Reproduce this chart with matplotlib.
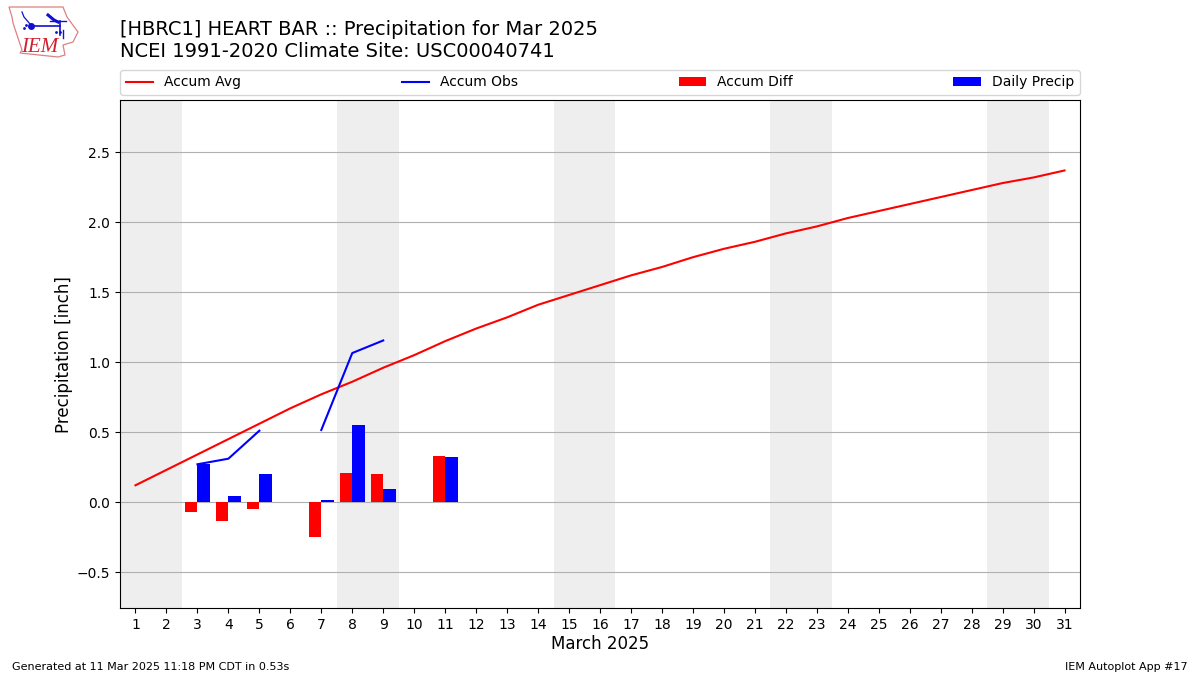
import numpy as np
import matplotlib
matplotlib.use("Agg")
import matplotlib.pyplot as plt
from matplotlib.patches import Polygon

nan = float("nan")
days = list(range(1, 32))
accum_avg = [0.12, 0.23, 0.34, 0.45, 0.56, 0.67, 0.77, 0.86, 0.96, 1.05, 1.15,
             1.24, 1.32, 1.41, 1.48, 1.55, 1.62, 1.68, 1.75, 1.81, 1.86, 1.92,
             1.97, 2.03, 2.08, 2.13, 2.18, 2.23, 2.28, 2.32, 2.37]
accum_obs = [nan, nan, 0.27, 0.31, 0.51, nan, 0.515, 1.065, 1.155] + [nan] * 22
accum_diff = [0, 0, -0.07, -0.135, -0.05, 0, -0.25, 0.21, 0.20, 0, 0.33] + [0] * 20
daily_precip = [0, 0, 0.27, 0.04, 0.20, 0, 0.015, 0.55, 0.09, 0, 0.32] + [0] * 20
weekends = [(0.5, 2.5), (7.5, 9.5), (14.5, 16.5), (21.5, 23.5), (28.5, 30.5)]
title_lines = ["[HBRC1] HEART BAR :: Precipitation for Mar 2025",
               "NCEI 1991-2020 Climate Site: USC00040741"]

fig = plt.figure(figsize=(12, 6.75), dpi=100)
ax = fig.add_axes([0.1, 0.0993, 0.8, 0.752])

for a, b in weekends:
    ax.axvspan(a, b, color="#EEEEEE", lw=0, zorder=0)

ax.bar(days, accum_diff, width=-0.4, align="edge", color="red", label="Accum Diff", zorder=3)
ax.bar(days, daily_precip, width=0.4, align="edge", color="blue", label="Daily Precip", zorder=3)
ax.plot(days, accum_avg, color="red", lw=1.5, label="Accum Avg", zorder=4)
ax.plot(days, accum_obs, color="blue", lw=1.5, label="Accum Obs", zorder=4)

ax.set_xlim(0.5, 31.5)
ax.set_ylim(-0.757, 2.871)
ax.set_xticks(days)
ax.set_yticks([-0.5, 0, 0.5, 1.0, 1.5, 2.0, 2.5])
ax.yaxis.grid(True, color="#b0b0b0", lw=0.8, zorder=1)
ax.set_axisbelow(True)
ax.set_xlabel("March 2025", fontsize=12, labelpad=2.6)
ax.set_ylabel("Precipitation [inch]", fontsize=12, labelpad=2.6)

h, l = ax.get_legend_handles_labels()
order = [l.index(n) for n in ["Accum Avg", "Accum Obs", "Accum Diff", "Daily Precip"]]
ax.legend([h[i] for i in order], [l[i] for i in order], ncol=4, mode="expand",
          loc="lower left", bbox_to_anchor=(0, 1.0105, 1, 0.05), borderaxespad=0.0,
          fontsize=10)

fig.text(120 / 1200, 1 - 61 / 675, "\n".join(title_lines), fontsize=14,
         ha="left", va="bottom", linespacing=1.2)
fig.text(12 / 1200, 1 - 672 / 675, "Generated at 11 Mar 2025 11:18 PM CDT in 0.53s",
         fontsize=8, ha="left", va="bottom")
fig.text(1188 / 1200, 1 - 672 / 675, "IEM Autoplot App #17", fontsize=8,
         ha="right", va="bottom")

# IEM logo (pixel coordinates of the figure corner)
logo = fig.add_axes([0, 1 - 70 / 675, 100 / 1200, 70 / 675])
logo.set_xlim(0, 100)
logo.set_ylim(70, 0)
logo.axis("off")
outline = [(9, 7), (63, 7), (67, 17), (78, 32), (73, 42), (63, 45), (65, 55),
           (58, 57), (20, 53), (22, 50), (13, 23), (12, 17)]
logo.add_patch(Polygon(outline, closed=True, fill=False, ec="#e08080", lw=0.9))
logo.plot([31, 60], [26, 26], color="#1010d0", lw=1.2)
logo.plot([22, 24, 30], [12, 17, 24], color="#1010d0", lw=0.9)
logo.plot([48, 54, 58], [15, 20, 22], color="#1010d0", lw=2.2)
logo.plot([50, 66], [21, 21], color="#1010d0", lw=1)
logo.plot([60, 60], [21, 35], color="#1010d0", lw=1.2)
logo.plot([63, 63], [30, 38], color="#1010d0", lw=1)
logo.plot([31], [26], "o", color="#1010d0", ms=4)
logo.plot([24, 26, 56, 60], [28, 25, 32, 32], ".", color="#1010d0", ms=2)
logo.text(21, 52, "IEM", family="Liberation Serif", style="italic", color="#d02030",
          fontsize=15, ha="left", va="baseline")

fig.savefig("out.png", dpi=100)
